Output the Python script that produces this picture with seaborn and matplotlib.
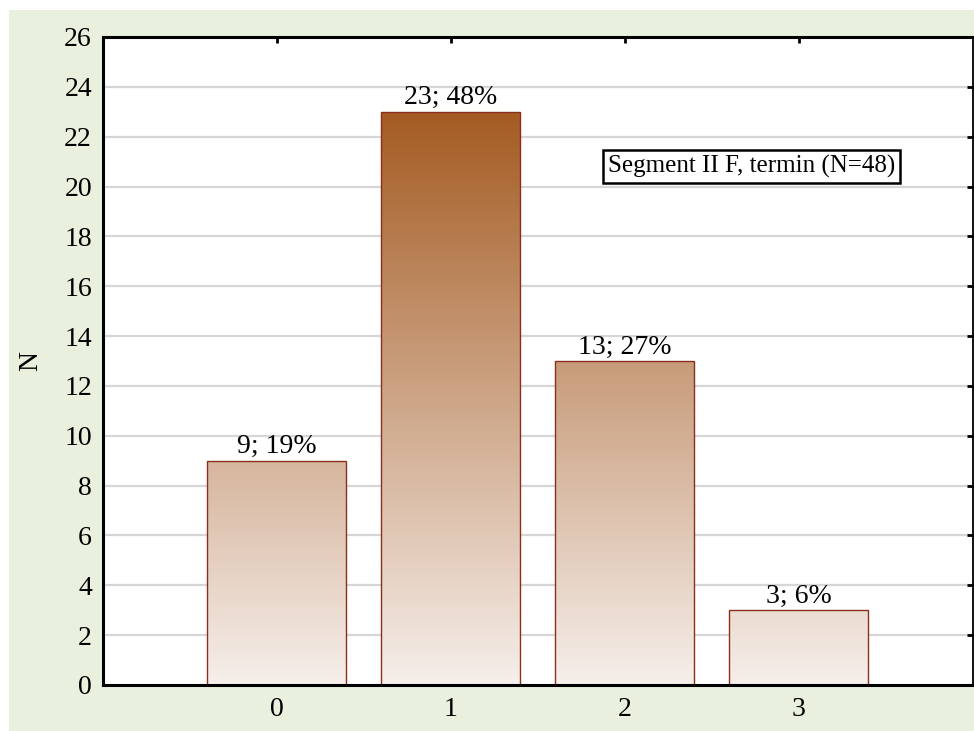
import numpy as np
import pandas as pd
import matplotlib
matplotlib.use('Agg')
import matplotlib.pyplot as plt
from matplotlib.colors import LinearSegmentedColormap
from matplotlib.patches import Rectangle
import seaborn as sns

# data
categories = ['0', '1', '2', '3']
counts = [9, 23, 13, 3]
percents = [19, 48, 27, 6]
bar_labels = [f'{c}; {p}%' for c, p in zip(counts, percents)]
legend_text = 'Segment II F, termin (N=48)'

df = pd.DataFrame({'cat': categories, 'n': counts})

sns.set_theme(style='white')
plt.rcParams['font.family'] = ['Liberation Serif', 'DejaVu Serif']
plt.rcParams['text.color'] = 'black'
plt.rcParams['axes.labelcolor'] = 'black'

fig = plt.figure(figsize=(9.74, 7.31), dpi=100, facecolor='white')
# light green panel behind the plot
fig.patches.append(Rectangle((9 / 974, 0), 1 - 9 / 974, 1 - 10 / 731,
                             transform=fig.transFigure, facecolor='#E9F0DD',
                             edgecolor='none', zorder=-10))
ax = fig.add_axes([103 / 974, 46 / 731, 869.5 / 974, 648 / 731])
ax.set_facecolor('white')

sns.barplot(data=df, x='cat', y='n', order=categories, width=0.8,
            color='#C89C7A', ax=ax)

# vertical gradient fill, same colour at same height for all bars
cmap = LinearSegmentedColormap.from_list('brown', ['#F6EFEB', '#A45B22'])
vmax = max(counts)
for p in ax.patches:
    x0, w, h = p.get_x(), p.get_width(), p.get_height()
    grad = np.linspace(0, h, 256).reshape(-1, 1)
    im = ax.imshow(grad, extent=[x0, x0 + w, 0, h], origin='lower', cmap=cmap,
                   vmin=0, vmax=vmax, aspect='auto', zorder=1.5, interpolation='bilinear')
    im.set_clip_path(p)
    p.set_facecolor('none')
    p.set_edgecolor('#8A2E1E')
    p.set_linewidth(1.0)
    p.set_zorder(2)

ax.bar_label(ax.containers[0], labels=bar_labels, padding=1, fontsize=20, color='black')

ax.set_xlim(-1, 4)
ax.set_ylim(0, 26)
ax.set_yticks(range(0, 27, 2))
ax.set_axisbelow(True)
ax.yaxis.grid(True, color='#D6D6D6', linewidth=1.6)
ax.xaxis.grid(False)

ax.set_xlabel('')
ax.set_ylabel('N', fontsize=20, color='black')
ax.yaxis.set_label_coords(-0.069, 0.5)

ax.tick_params(axis='both', direction='in', length=4, width=2, labelsize=20,
               top=True, right=True, colors='black')
ax.tick_params(axis='y', pad=8)
ax.tick_params(axis='x', pad=9)

for side in ['left', 'top', 'bottom']:
    ax.spines[side].set_linewidth(2.2)
    ax.spines[side].set_color('black')
ax.spines['right'].set_linewidth(1.3)
ax.spines['right'].set_color('black')

ax.text(0.746, 0.800, legend_text, transform=ax.transAxes, fontsize=18,
        ha='center', va='center', zorder=5, color='black',
        bbox=dict(boxstyle='square,pad=0.2', facecolor='white',
                  edgecolor='black', linewidth=1.8))

fig.savefig('out.png', dpi=100, facecolor=fig.get_facecolor())
